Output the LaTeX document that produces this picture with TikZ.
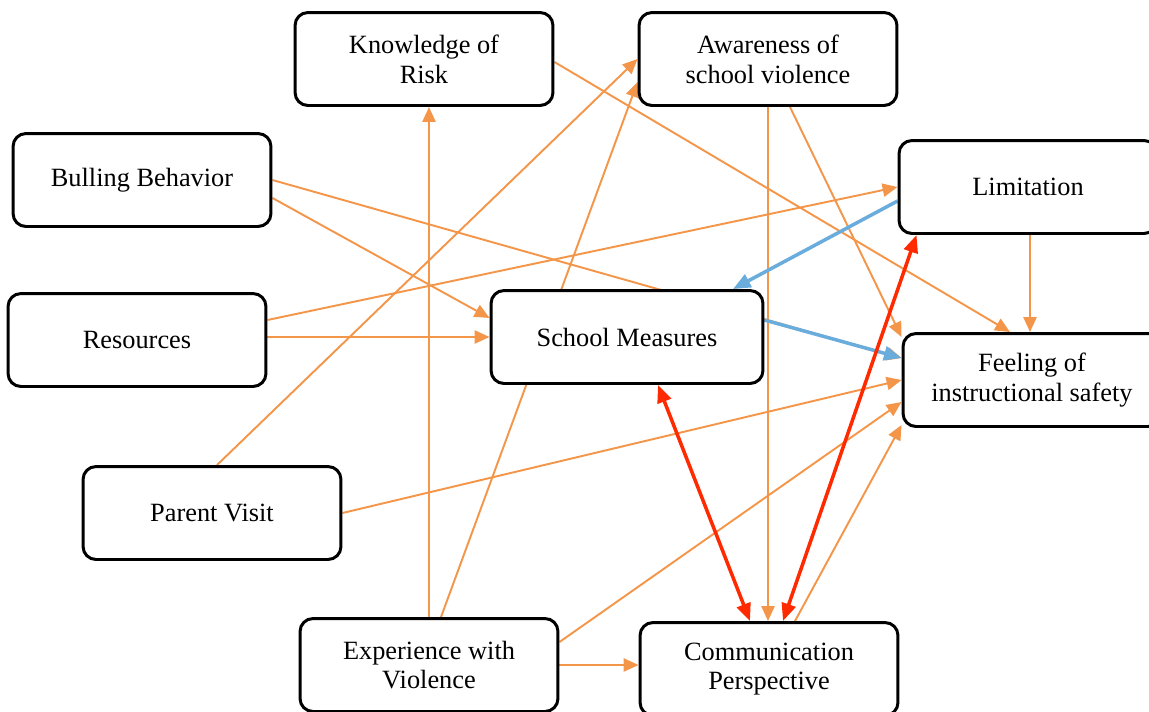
\documentclass[tikz,border=0pt]{standalone}
\usepackage{fontspec}
\setmainfont{Liberation Serif}
\usetikzlibrary{arrows.meta,calc,backgrounds}
\definecolor{edgeorange}{HTML}{F4964A}
\definecolor{edgeblue}{HTML}{6AACDC}
\definecolor{edgered}{HTML}{FF2A00}

\begin{document}
\begin{tikzpicture}[x=0.02cm,y=-0.02cm,
    box/.style={draw, line width=1.7pt, rounded corners=0.26cm, fill=white, align=center,
        minimum width=5.16cm, minimum height=1.86cm, font=\fontsize{15}{17}\selectfont},
    link/.style={draw=edgeorange, line width=1.1pt, -{Triangle[length=8.5pt,width=7.5pt]}, fill=edgeorange},
    fbk/.style={draw=edgeblue, line width=2pt, -{Triangle[length=10pt,width=8pt]}, fill=edgeblue},
    mutual/.style={draw=edgered, line width=2pt, {Triangle[length=10pt,width=8pt]}-{Triangle[length=10pt,width=8pt]}, fill=edgered}]
    \useasboundingbox (0,0) rectangle (1149,711);

    \node[box] (know) at (424,59) {Knowledge of\\Risk};
    \node[box] (aware) at (768,59) {Awareness of\\school violence};
    \node[box] (bull) at (142,180) {Bulling Behavior};
    \node[box] (limit) at (1028,187) {Limitation};
    \node[box] (res) at (137,340) {Resources};
    \node[box, minimum width=5.44cm] (sm) at (627,337) {School Measures};
    \node[box] (feel) at (1032,380) {Feeling of\\instructional safety};
    \node[box] (parent) at (212,513) {Parent Visit};
    \node[box] (exp) at (429,665) {Experience with\\Violence};
    \node[box] (comm) at (769,669) {Communication\\Perspective};

    \begin{scope}[on background layer]
    \draw[link] (bull.east) -- ($(feel.west)+(0,-22)$);
    \draw[link] ($(bull.east)+(0,18)$) -- ($(sm.west)+(0,-19)$);
    \draw[link] ($(res.east)+(0,-20)$) -- (limit.west);
    \draw[link] ($(res.east)+(0,-3)$) -- (sm.west);
    \draw[link] ($(parent.north)+(5,0)$) -- (aware.west);
    \draw[link] (parent.east) -- (feel.west);
    \draw[link] (exp.north) -- (exp.north |- know.south);
    \draw[link] ($(exp.north)+(12,0)$) -- ($(aware.west)+(0,23)$);
    \draw[link] ($(exp.east)+(0,-23)$) -- ($(feel.west)+(0,22)$);
    \draw[link] (exp.east) -- (exp.east -| comm.west);
    \draw[link] ($(know.east)+(0,3)$) -- ($(feel.north)+(-22,0)$);
    \draw[link] (aware.south) -- (aware.south |- comm.north);
    \draw[link] ($(aware.south)+(22,0)$) -- ($(feel.north west)+(0,5)$);
    \draw[link] ($(limit.south)+(2,0)$) -- ($(limit.south |- feel.north)+(2,0)$);
    \draw[link] ($(comm.north)+(26,0)$) -- ($(feel.south west)+(0,-3)$);
    \draw[fbk] ($(limit.west)+(0,14)$) -- ($(sm.north)+(106,0)$);
    \draw[fbk] ($(sm.east)+(0,-17)$) -- ($(feel.west)+(0,-22)$);
    \draw[mutual] ($(sm.south)+(31,0)$) -- ($(comm.north)+(-19,0)$);
    \draw[mutual] ($(comm.north)+(14,0)$) -- ($(limit.south west)+(19,0)$);
    \end{scope}
\end{tikzpicture}
\end{document}
